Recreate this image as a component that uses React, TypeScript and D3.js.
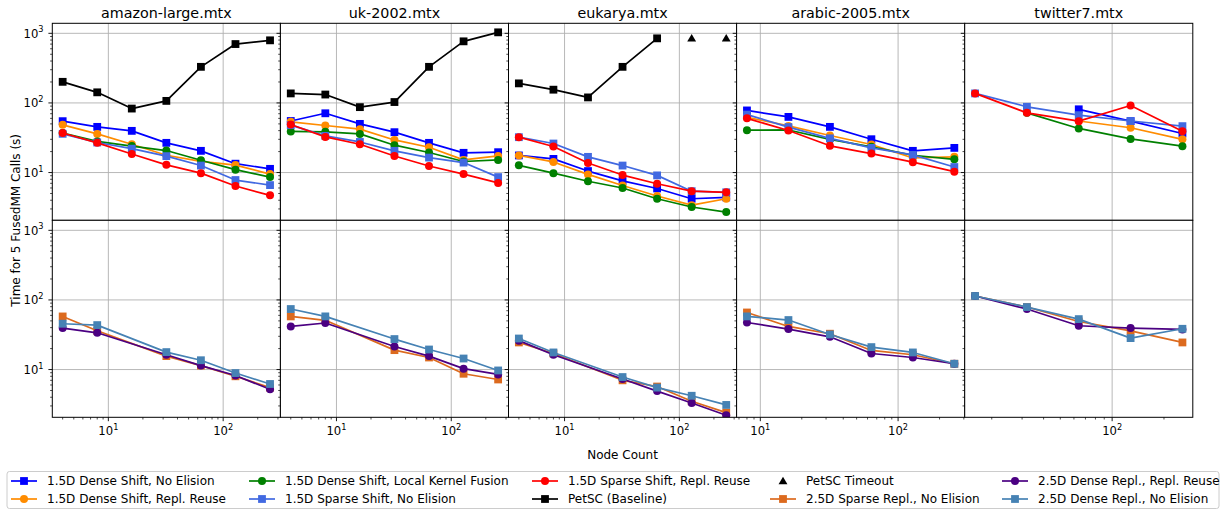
import * as d3 from 'd3';

const matrices = ['amazon-large.mtx', 'uk-2002.mtx', 'eukarya.mtx', 'arabic-2005.mtx', 'twitter7.mtx'];

const nodeCounts = [
  [4, 8, 16, 32, 64, 128, 256],
  [4, 8, 16, 32, 64, 128, 256],
  [4, 8, 16, 32, 64, 128, 256],
  [8, 16, 32, 64, 128, 256],
  [16, 32, 64, 128, 256],
];

// seconds for 5 FusedMM calls, one list per matrix, null = not run
const dense15NoElision = [
  [54.7, 45.3, 39.7, 26.7, 20.5, 13.4, 11.3],
  [55, 71, 50, 38, 26.7, 19.2, 19.6],
  [17.6, 15.7, 10.5, 7.6, 5.9, 4.2, 4.4],
  [78, 63, 45.3, 30.1, 20.5, 22.6],
  [null, null, 81, 54.7, 36.4],
];
const dense15ReplReuse = [
  [48.4, 35.9, 25.5, 17.7, 14.5, 12.8, 9.5],
  [53.5, 47.4, 42, 29.4, 23.1, 15.2, 17.3],
  [17.6, 14.2, 9.4, 6.5, 4.6, 3.4, 4.2],
  [62, 46.8, 34, 25.3, 16.2, 16.8],
  [null, null, 55, 44, 30],
];
const dense15Fusion = [
  [37, 28, 24, 20.7, 15, 11, 8.6],
  [39, 38.5, 35.9, 24.7, 19.4, 14.4, 15.2],
  [12.7, 9.8, 7.5, 6.0, 4.2, 3.2, 2.7],
  [40.6, 40.9, 29.9, 23.4, 17.7, 15.5],
  [null, 72, 43, 30.4, 23.9],
];
const sparse15NoElision = [
  [36, 27, 22, 17.2, 12.6, 7.8, 6.6],
  [48, 33.6, 27.5, 20.5, 16.4, 13.9, 8.6],
  [32.2, 26.1, 16.8, 12.6, 9.1, 5.4, 5.2],
  [68, 45, 31, 22.6, 17.9, 12],
  [137, 88, 66.7, 55, 46.4],
];
const sparse15ReplReuse = [
  [37, 26.7, 18.5, 12.9, 9.8, 6.4, 4.7],
  [49, 32.5, 25.5, 17.3, 12.4, 9.5, 7.1],
  [32.2, 23.7, 13.7, 9.2, 6.9, 5.4, 5.2],
  [60, 40.2, 24.2, 18.7, 14.1, 10.3],
  [137, 72, 54.7, 92, 39.3],
];
const petsc = [
  [201, 142, 83, 107, 330, 701, 793],
  [137, 132, 87, 103, 330, 767, 1033],
  [191, 155, 120, 330, 847, null, null],
  [null, null, null, null, null, null],
  [null, null, null, null, null],
];
const petscTimeout = [
  [null, null, null, null, null, null, null],
  [null, null, null, null, null, null, null],
  [null, null, null, null, null, 850, 850],
  [null, null, null, null, null, null],
  [null, null, null, null, null],
];
const sparse25NoElision = [
  [57.9, 36, null, 15.6, 11.4, 8.0, 5.5],
  [58, 51, null, 19, 14.9, 8.7, 7.2],
  [24.5, 17, null, 7.0, 5.7, 3.5, 2.4],
  [66, 41.6, 32.7, 18.8, 16.3, 12.1],
  [114, 79, 49, 36, 24.5],
];
const dense25ReplReuse = [
  [39.4, 33.7, null, 16.3, 11.4, 8.2, 5.2],
  [41.6, 46.6, null, 21.4, 15.6, 10.3, 8.5],
  [26, 16.3, null, 7.3, 4.9, 3.3, 2.2],
  [47.4, 38.1, 29.5, 17, 14.9, 12.1],
  [114, 74, 42.6, 39.4, 37.7],
];
const dense25NoElision = [
  [45.5, 43.5, null, 17.8, 13.6, 8.9, 6.2],
  [74, 58, null, 27.4, 19.4, 14.4, 9.7],
  [27.9, 17.6, null, 7.8, 5.5, 4.2, 3.1],
  [58, 51.4, 31.9, 21, 17.6, 12.1],
  [114, 79, 53, 28.3, 38.5],
];

type Marker = 'square' | 'circle' | 'triangle';
type Series = { label: string; color: string; marker: Marker; values: (number | null)[][]; row: number; line: boolean };

// legend order (column-major, two rows)
const series: Series[] = [
  { label: '1.5D Dense Shift, No Elision', color: '#0000ff', marker: 'square', values: dense15NoElision, row: 0, line: true },
  { label: '1.5D Dense Shift, Repl. Reuse', color: '#ff8c00', marker: 'circle', values: dense15ReplReuse, row: 0, line: true },
  { label: '1.5D Dense Shift, Local Kernel Fusion', color: '#008000', marker: 'circle', values: dense15Fusion, row: 0, line: true },
  { label: '1.5D Sparse Shift, No Elision', color: '#4169e1', marker: 'square', values: sparse15NoElision, row: 0, line: true },
  { label: '1.5D Sparse Shift, Repl. Reuse', color: '#ff0000', marker: 'circle', values: sparse15ReplReuse, row: 0, line: true },
  { label: 'PetSC (Baseline)', color: '#000000', marker: 'square', values: petsc, row: 0, line: true },
  { label: 'PetSC Timeout', color: '#000000', marker: 'triangle', values: petscTimeout, row: 0, line: false },
  { label: '2.5D Sparse Repl., No Elision', color: '#dc6a1e', marker: 'square', values: sparse25NoElision, row: 1, line: true },
  { label: '2.5D Dense Repl., Repl. Reuse', color: '#4b0082', marker: 'circle', values: dense25ReplReuse, row: 1, line: true },
  { label: '2.5D Dense Repl., No Elision', color: '#4682b4', marker: 'square', values: dense25NoElision, row: 1, line: true },
];

const yTickValues = [10, 100, 1000];

const W = 1227;
const H = 512;
const LEFT = 52.3;
const PW = 228.1;
const TOP = 23.3;
const RH = 197;
const FONT = 'DejaVu Sans';
const FS = 12;
const GRID = '#b0b0b0';

const legendCols = [11, 249, 532, 770, 1002];
const legendRows = [481, 499];

function xScaleFor(c: number) {
  const [lo, hi] = d3.extent(nodeCounts[c]) as [number, number];
  const l0 = Math.log10(lo);
  const l1 = Math.log10(hi);
  const pad = (l1 - l0) * 0.05;
  const x0 = LEFT + c * PW;
  return d3.scaleLog().domain([10 ** (l0 - pad), 10 ** (l1 + pad)]).range([x0, x0 + PW]);
}

function yScaleFor(r: number) {
  return d3.scaleLog().domain([2.06, 1393]).range([TOP + (r + 1) * RH, TOP + r * RH]);
}

function minorTicks(domain: number[]) {
  const out: number[] = [];
  for (let k = -1; k <= 4; k++) {
    for (let m = 2; m <= 9; m++) {
      const v = m * 10 ** k;
      if (v > domain[0] && v < domain[1]) out.push(v);
    }
  }
  return out;
}

function MarkerShape({ m, x, y, color }: { m: Marker; x: number; y: number; color: string }) {
  if (m === 'square') return <rect x={x - 3.9} y={y - 3.9} width={7.8} height={7.8} fill={color} />;
  if (m === 'circle') return <circle cx={x} cy={y} r={4} fill={color} />;
  const p = d3.symbol(d3.symbolTriangle, 34)();
  return <path d={p ?? ''} transform={`translate(${x},${y + 0.8})`} fill={color} />;
}

function Pow10({ x, y, k, anchor }: { x: number; y: number; k: number; anchor: string }) {
  return (
    <text x={x} y={y} textAnchor={anchor} fontSize={11.6} fontFamily={FONT} fill="#000">
      10<tspan dy={-5.3} fontSize={8.2}>{k}</tspan>
    </text>
  );
}

function Panel({ c, r }: { c: number; r: number }) {
  const x = xScaleFor(c);
  const y = yScaleFor(r);
  const [x0, x1] = x.range();
  const [yb, yt] = y.range();
  const xMajor = [1, 10, 100, 1000].filter((v) => v > x.domain()[0] && v < x.domain()[1]);
  const xMinor = minorTicks(x.domain());
  const yMinor = minorTicks(y.domain());
  const clipId = `clip-${c}-${r}`;
  const line = d3
    .line<[number, number]>()
    .x((d) => x(d[0]))
    .y((d) => y(d[1]));

  const rowSeries = series.filter((s) => s.row === r);

  return (
    <g>
      <defs>
        <clipPath id={clipId}>
          <rect x={x0} y={yt} width={x1 - x0} height={yb - yt} />
        </clipPath>
      </defs>
      <rect x={x0} y={yt} width={x1 - x0} height={yb - yt} fill="#fff" />
      {xMajor.map((v) => (
        <line key={'gx' + v} x1={x(v)} x2={x(v)} y1={yt} y2={yb} stroke={GRID} strokeWidth={0.9} />
      ))}
      {yTickValues.map((v) => (
        <line key={'gy' + v} x1={x0} x2={x1} y1={y(v)} y2={y(v)} stroke={GRID} strokeWidth={0.9} />
      ))}
      <g clipPath={`url(#${clipId})`}>
        {rowSeries.map((s) => {
          const pts = nodeCounts[c]
            .map((n, i) => [n, s.values[c][i]] as [number, number | null])
            .filter((d) => d[1] != null) as [number, number][];
          return (
            <g key={s.label}>
              {s.line && pts.length > 1 && (
                <path d={line(pts) ?? ''} fill="none" stroke={s.color} strokeWidth={1.7} strokeLinejoin="round" />
              )}
              {pts.map((d, i) => (
                <MarkerShape key={i} m={s.marker} x={x(d[0])} y={y(d[1])} color={s.color} />
              ))}
            </g>
          );
        })}
      </g>
      {/* y ticks */}
      {yTickValues.map((v) => (
        <line key={'ty' + v} x1={x0 - 3.9} x2={x0} y1={y(v)} y2={y(v)} stroke="#000" strokeWidth={0.9} />
      ))}
      {yMinor.map((v) => (
        <line key={'tym' + v} x1={x0 - 2.2} x2={x0} y1={y(v)} y2={y(v)} stroke="#000" strokeWidth={0.7} />
      ))}
      {c === 0 &&
        yTickValues.map((v) => <Pow10 key={'ly' + v} x={43.5} y={y(v) + 4.4} k={Math.round(Math.log10(v))} anchor="end" />)}
      {r === 1 && (
        <g>
          {xMajor.map((v) => (
            <line key={'tx' + v} x1={x(v)} x2={x(v)} y1={yb} y2={yb + 3.9} stroke="#000" strokeWidth={0.9} />
          ))}
          {xMinor.map((v) => (
            <line key={'txm' + v} x1={x(v)} x2={x(v)} y1={yb} y2={yb + 2.2} stroke="#000" strokeWidth={0.7} />
          ))}
          {xMajor.map((v) => (
            <Pow10 key={'lx' + v} x={x(v)} y={yb + 18} k={Math.round(Math.log10(v))} anchor="middle" />
          ))}
        </g>
      )}
      <rect x={x0} y={yt} width={x1 - x0} height={yb - yt} fill="none" stroke="#000" strokeWidth={1} />
      {r === 0 && (
        <text x={(x0 + x1) / 2} y={17.5} textAnchor="middle" fontSize={14.3} fontFamily={FONT} fill="#000">
          {matrices[c]}
        </text>
      )}
    </g>
  );
}

function Legend() {
  return (
    <g>
      <rect x={7} y={471.5} width={1212} height={37} rx={2.5} fill="#fff" fillOpacity={0.8} stroke="#cccccc" strokeWidth={1} />
      {series.map((s, i) => {
        const lx = legendCols[Math.floor(i / 2)];
        const ly = legendRows[i % 2];
        return (
          <g key={s.label}>
            {s.line && <line x1={lx} x2={lx + 26} y1={ly} y2={ly} stroke={s.color} strokeWidth={1.7} />}
            <MarkerShape m={s.marker} x={lx + 13} y={ly} color={s.color} />
            <text x={lx + 36} y={ly + 4.3} fontSize={FS} fontFamily={FONT} fill="#000">
              {s.label}
            </text>
          </g>
        );
      })}
    </g>
  );
}

export default function App() {
  const rows = [0, 1];
  const cols = d3.range(matrices.length);
  return (
    <svg width={W} height={H} style={{ position: 'absolute', left: 0, top: 0, background: '#fff' }}>
      <rect width={W} height={H} fill="#fff" />
      {rows.map((r) => cols.map((c) => <Panel key={`${r}-${c}`} c={c} r={r} />))}
      <text
        transform={`translate(20,${TOP + RH}) rotate(-90)`}
        textAnchor="middle"
        fontSize={FS}
        fontFamily={FONT}
        fill="#000"
      >
        Time for 5 FusedMM Calls (s)
      </text>
      <text x={LEFT + (PW * 5) / 2} y={459} textAnchor="middle" fontSize={FS} fontFamily={FONT} fill="#000">
        Node Count
      </text>
      <Legend />
    </svg>
  );
}
